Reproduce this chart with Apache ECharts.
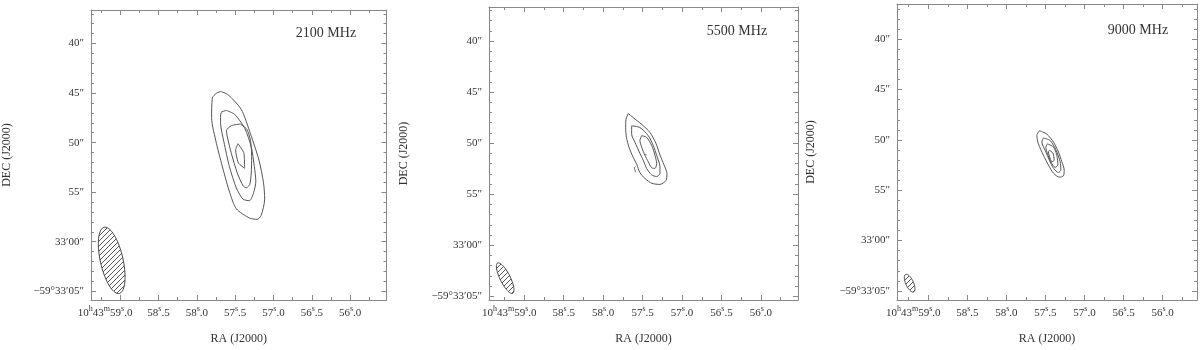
<!DOCTYPE html>
<html>
<head>
<meta charset="utf-8">
<script src="https://cdn.jsdelivr.net/npm/echarts@6/dist/echarts.min.js"></script>
<style>
  html, body { margin: 0; padding: 0; background: #fff; }
  #main { width: 1200px; height: 350px; }
</style>
</head>
<body>
<div id="main"></div>
<script>
// tick values / labels (RA in seconds of 10h43m, Dec in arcsec past -59°32')
var raTicks = [59.0, 58.5, 58.0, 57.5, 57.0, 56.5, 56.0];
var raLabels = ['59.0', '58.5', '58.0', '57.5', '57.0', '56.5', '56.0'];
var raMinor = [59.25, 58.75, 58.25, 57.75, 57.25, 56.75, 56.25, 55.75];
var decTicks = [40, 45, 50, 55, 60, 65];
var decLabels = ['40″', '45″', '50″', '55″', '33′00″', '−59°33′05″'];
var decMinor = [37, 38, 39, 41, 42, 43, 44, 46, 47, 48, 49, 51, 52, 53, 54, 56, 57, 58, 59, 61, 62, 63, 64];
var freqs = ['2100 MHz', '5500 MHz', '9000 MHz'];

// contours, [RA sec, Dec arcsec]
var c2100a = [[57.687,44.84],[57.592,45.17],[57.42,46.65],[57.30,49.12],[57.19,51.75],[57.13,54.06],[57.115,55.70],
    [57.161,57.34],[57.213,57.74],[57.313,57.61],[57.484,56.68],[57.571,55.04],[57.656,52.73],[57.743,50.11],
    [57.807,47.47],[57.798,45.50],[57.743,45.00],[57.687,44.84]];
var c2100b = [[57.614,46.75],[57.506,47.15],[57.375,48.56],[57.29,50.43],[57.25,52.41],[57.23,53.89],[57.26,55.07],
    [57.313,55.86],[57.398,55.70],[57.484,54.58],[57.575,52.41],[57.646,49.94],[57.691,47.97],[57.685,46.98],[57.614,46.75]];
var c2100c = [[57.433,48.13],[57.35,48.63],[57.30,49.77],[57.285,51.42],[57.29,53.07],[57.31,54.22],[57.35,54.55],
    [57.395,54.38],[57.472,53.07],[57.549,51.10],[57.601,49.45],[57.614,48.79],[57.549,48.29],[57.433,48.13]];
var c2100d = [[57.463,50.11],[57.385,51.10],[57.377,52.58],[57.455,52.08],[57.485,51.25],[57.494,50.76],[57.463,50.11]];

var c5500a = [[57.682,47.10],[57.618,47.51],[57.512,48.16],[57.407,48.95],[57.331,50.01],[57.280,51.16],[57.229,52.12],
    [57.191,52.98],[57.204,53.66],[57.280,54.04],[57.381,53.94],[57.470,53.46],[57.534,52.89],[57.572,52.12],
    [57.622,51.35],[57.673,50.39],[57.705,49.43],[57.715,48.47],[57.711,47.68],[57.682,47.10]];
var c5500b = [[57.639,48.31],[57.534,48.47],[57.428,49.27],[57.365,50.23],[57.322,51.19],[57.280,52.31],[57.280,52.96],
    [57.322,53.27],[57.385,53.11],[57.449,52.48],[57.492,51.67],[57.542,50.87],[57.597,49.91],[57.639,49.12],[57.639,48.31]];
var c5500c = [[57.512,49.27],[57.449,49.43],[57.385,50.23],[57.343,51.19],[57.322,52.00],[57.343,52.48],[57.385,52.41],
    [57.428,51.83],[57.470,51.19],[57.512,50.39],[57.534,49.75],[57.512,49.27]];
var c5500d = [[57.462,51.05],[57.455,51.20]];
var c5500e = [[57.590,52.30],[57.605,52.40],[57.598,52.60],[57.590,52.85]];

var c9000a = [[57.577,49.08],[57.482,49.42],[57.397,50.22],[57.333,51.20],[57.290,52.17],[57.260,52.98],[57.269,53.56],
    [57.321,53.70],[57.397,53.31],[57.462,52.49],[57.526,51.52],[57.590,50.39],[57.610,49.57],[57.577,49.08]];
var c9000b = [[57.526,49.81],[57.440,50.06],[57.363,51.03],[57.312,52.17],[57.303,52.98],[57.333,53.24],[57.397,52.82],
    [57.449,52.01],[57.504,51.03],[57.546,50.22],[57.526,49.81]];
var c9000c = [[57.474,50.39],[57.397,50.71],[57.354,51.52],[57.341,52.49],[57.376,52.73],[57.431,52.17],[57.474,51.36],
    [57.495,50.71],[57.474,50.39]];
var c9000d = [[57.449,51.03],[57.405,51.30],[57.388,52.01],[57.418,52.17],[57.449,51.62],[57.462,51.20],[57.449,51.03]];

// beams: [RA sec, Dec arcsec, major ", minor ", PA deg]
var beam2100 = [59.11, 61.88, 6.85, 2.25, 12.5];
var beam5500 = [59.242, 63.22, 3.3, 0.98, 26];
var beam9000 = [59.238, 64.23, 1.9, 0.75, 24];

var contours = [[c2100a, c2100b, c2100c, c2100d], [c5500a, c5500b, c5500c, c5500d, c5500e], [c9000a, c9000b, c9000c, c9000d]];
var beams = [beam2100, beam5500, beam9000];

// panel layout (px) and axis ranges
var panels = [
    {left: 88, top: 10, width: 298.5, height: 297, raMin: 55.526, raMax: 59.38, decMin: 36.62, decMax: 65.88, fx: 326, fy: 33, nameGap: 78},
    {left: 489, top: 7, width: 309, height: 299, raMin: 55.53, raMax: 59.447, decMin: 36.67, decMax: 65.36, fx: 737, fy: 31, nameGap: 79},
    {left: 897, top: 4, width: 300, height: 302, raMin: 55.56, raMax: 59.40, decMin: 36.5, decMax: 65.9, fx: 1138, fy: 30, nameGap: 80}
];

var FONT = '"Liberation Serif", "DejaVu Serif", serif';
var TXT = '#333';
var FRAME = '#888';
var raScale = 15 * Math.cos((59 + 33 / 60) * Math.PI / 180); // arcsec per RA second

var hatch = document.createElement('canvas');
hatch.width = 5; hatch.height = 5;
(function () {
    var ctx = hatch.getContext('2d');
    ctx.strokeStyle = '#444';
    ctx.lineWidth = 0.9;
    ctx.beginPath();
    ctx.moveTo(0, 5); ctx.lineTo(5, 0);
    ctx.moveTo(-1, 1); ctx.lineTo(1, -1);
    ctx.moveTo(4, 6); ctx.lineTo(6, 4);
    ctx.stroke();
})();

var rich = {
    n: {fontSize: 11, fontFamily: FONT, color: TXT, lineHeight: 14, verticalAlign: 'bottom'},
    s: {fontSize: 8, fontFamily: FONT, color: TXT, lineHeight: 9, verticalAlign: 'top'},
    sp: {width: 30}
};
function raFmt(v) {
    var idx = raTicks.indexOf(v);
    var p = raLabels[idx].split('.');
    return '{n|' + p[0] + '}{s|s}{n|.' + p[1] + '}';
}

var grids = [], xAxes = [], yAxes = [], series = [], graphics = [];
panels.forEach(function (p, i) {
    grids.push({left: p.left, top: p.top, width: p.width, height: p.height});
    var xBase = {type: 'value', gridIndex: i, min: p.raMin, max: p.raMax, inverse: true, splitLine: {show: false}};
    var yBase = {type: 'value', gridIndex: i, min: p.decMin, max: p.decMax, inverse: true, splitLine: {show: false}};
    var line = {show: true, onZero: false, lineStyle: {color: FRAME, width: 1}};
    var noLine = {show: false};
    // x axes: bottom major w/ labels, bottom minor, first label, top major, top minor
    xAxes.push(Object.assign({}, xBase, {
        position: 'bottom', axisLine: line,
        axisTick: {inside: true, length: 5, customValues: raTicks, lineStyle: {color: FRAME}},
        axisLabel: {customValues: raTicks.slice(1), formatter: raFmt, rich: rich, margin: 5},
        name: 'RA (J2000)', nameLocation: 'middle', nameGap: 33,
        nameTextStyle: {fontFamily: FONT, fontSize: 12, color: TXT}
    }));
    xAxes.push(Object.assign({}, xBase, {
        position: 'bottom', axisLine: noLine,
        axisTick: {inside: true, length: 3, customValues: raMinor, lineStyle: {color: FRAME}},
        axisLabel: {show: false}
    }));
    xAxes.push(Object.assign({}, xBase, {
        position: 'bottom', axisLine: noLine, axisTick: {show: false},
        axisLabel: {customValues: [raTicks[0]], rich: rich, margin: 5,
            formatter: function (v) { return '{n|10}{s|h}{n|43}{s|m}' + raFmt(v) + '{sp| }'; }}
    }));
    xAxes.push(Object.assign({}, xBase, {
        position: 'top', axisLine: line,
        axisTick: {inside: true, length: 5, customValues: raTicks, lineStyle: {color: FRAME}},
        axisLabel: {show: false}
    }));
    xAxes.push(Object.assign({}, xBase, {
        position: 'top', axisLine: noLine,
        axisTick: {inside: true, length: 3, customValues: raMinor, lineStyle: {color: FRAME}},
        axisLabel: {show: false}
    }));
    // y axes: left major w/ labels, left minor, right major, right minor
    yAxes.push(Object.assign({}, yBase, {
        position: 'left', axisLine: line,
        axisTick: {inside: true, length: 5, customValues: decTicks, lineStyle: {color: FRAME}},
        axisLabel: {customValues: decTicks, margin: 7, fontFamily: FONT, fontSize: 11, color: TXT,
            formatter: function (v) { return decLabels[decTicks.indexOf(v)]; }},
        name: 'DEC (J2000)', nameLocation: 'middle', nameGap: p.nameGap, nameRotate: 90,
        nameTextStyle: {fontFamily: FONT, fontSize: 12, color: TXT}
    }));
    yAxes.push(Object.assign({}, yBase, {
        position: 'left', axisLine: noLine,
        axisTick: {inside: true, length: 3, customValues: decMinor, lineStyle: {color: FRAME}},
        axisLabel: {show: false}
    }));
    yAxes.push(Object.assign({}, yBase, {
        position: 'right', axisLine: line,
        axisTick: {inside: true, length: 5, customValues: decTicks, lineStyle: {color: FRAME}},
        axisLabel: {show: false}
    }));
    yAxes.push(Object.assign({}, yBase, {
        position: 'right', axisLine: noLine,
        axisTick: {inside: true, length: 3, customValues: decMinor, lineStyle: {color: FRAME}},
        axisLabel: {show: false}
    }));

    contours[i].forEach(function (c) {
        series.push({
            type: 'line', xAxisIndex: i * 5, yAxisIndex: i * 4, data: c,
            showSymbol: false, symbol: 'none', smooth: 0.25, silent: true,
            lineStyle: {color: '#555', width: 1}
        });
    });
    series.push({
        type: 'custom', xAxisIndex: i * 5, yAxisIndex: i * 4, data: [beams[i]], silent: true,
        encode: {x: 0, y: 1},
        renderItem: function (params, api) {
            var ra0 = api.value(0), d0 = api.value(1);
            var a = api.value(2) / 2, b = api.value(3) / 2, pa = api.value(4) * Math.PI / 180;
            var pts = [];
            for (var k = 0; k < 72; k++) {
                var t = k / 72 * Math.PI * 2;
                var u = a * Math.cos(t), w = b * Math.sin(t);
                var nn = u * Math.cos(pa) - w * Math.sin(pa);
                var ee = u * Math.sin(pa) + w * Math.cos(pa);
                pts.push(api.coord([ra0 + ee / raScale, d0 - nn]));
            }
            return {type: 'polygon', shape: {points: pts},
                style: {fill: {image: hatch, repeat: 'repeat'}, stroke: '#444', lineWidth: 1}};
        }
    });
    graphics.push({
        type: 'text', x: p.fx, y: p.fy, silent: true,
        style: {text: freqs[i], align: 'center', verticalAlign: 'middle',
            font: '14px ' + FONT, fill: TXT}
    });
});

var chart = echarts.init(document.getElementById('main'));
chart.setOption({
    animation: false,
    backgroundColor: '#fff',
    grid: grids,
    xAxis: xAxes,
    yAxis: yAxes,
    series: series,
    graphic: graphics
});
</script>
</body>
</html>
